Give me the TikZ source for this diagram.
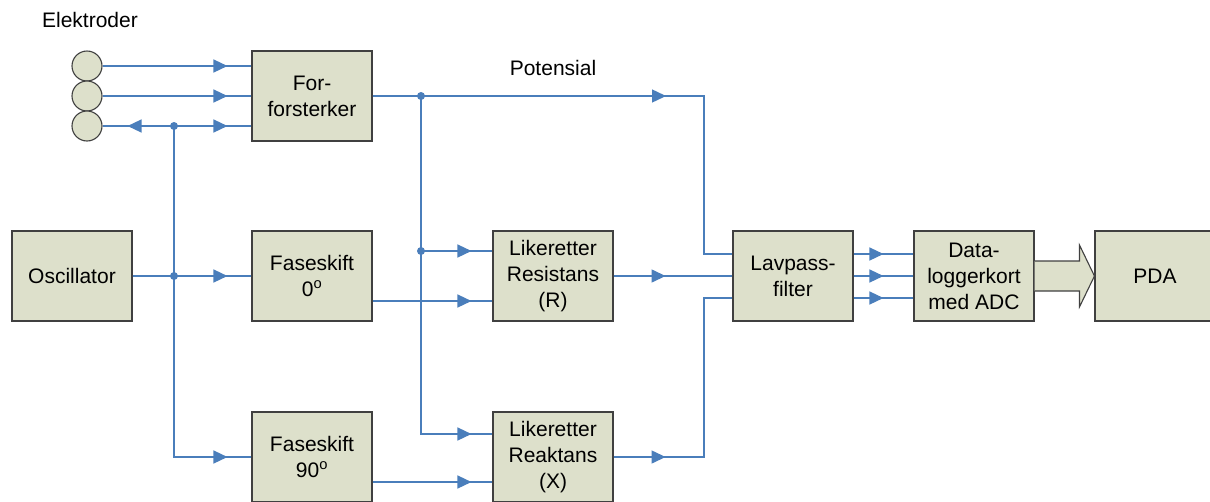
\documentclass[tikz,border=0pt]{standalone}
\usepackage{fontspec}
\setmainfont{Liberation Sans}
\usetikzlibrary{arrows.meta,decorations.markings}
\definecolor{boxfill}{RGB}{221,224,203}
\definecolor{boxline}{RGB}{64,64,64}
\definecolor{wireblue}{RGB}{74,126,187}
\begin{document}
\begin{tikzpicture}[x=1pt,y=-1pt,font=\fontsize{21}{26}\selectfont,
    block/.style={draw=boxline,line width=1.1pt,fill=boxfill,minimum width=120pt,minimum height=90pt,inner sep=0pt,align=center},
    elec/.style={circle,draw=boxline,line width=1.1pt,fill=boxfill,minimum size=30pt,inner sep=0pt},
    wire/.style={draw=wireblue,line width=1.4pt},
    feed/.style={wire,postaction={decorate},decoration={markings,mark=at position #1 with {\arrow{Triangle[length=14pt,width=13pt]}}}},
    feed/.default=-24pt]
  \useasboundingbox (0,0) rectangle (1210,501);
  \clip (0,0) rectangle (1210,501);

  \node at (90,20) {Elektroder};
  \node at (553,68) {Potensial};

  \node[elec] (e1) at (87,66) {};
  \node[elec] (e2) at (87,96) {};
  \node[elec] (e3) at (87,126) {};

  \node[block] (ff) at (312,96) {For-\\forsterker};
  \node[block] (osc) at (72,276) {Oscillator};
  \node[block] (fs0) at (312,276) {Faseskift\\0\textsuperscript{o}};
  \node[block] (fs90) at (312,457) {Faseskift\\90\textsuperscript{o}};
  \node[block] (lr) at (553,276) {Likeretter\\Resistans\\(R)};
  \node[block] (lx) at (553,457) {Likeretter\\Reaktans\\(X)};
  \node[block] (lp) at (793,276) {Lavpass-\\filter};
  \node[block] (dl) at (974,276) {Data-\\loggerkort\\med ADC};
  \node[block] (pda) at (1155,276) {PDA};

  \coordinate (j1) at (174,126);
  \coordinate (j2) at (174,276);
  \coordinate (j3) at (421,96);
  \coordinate (j4) at (421,251);
  \coordinate (c1) at (704,96);

  \foreach \i in {1,2}
    \draw[feed] (e\i.east) -- (e\i -| ff.west);
  \draw[feed=-25pt] (j1) -- (e3.east);
  \draw[feed] (j1) -- (j1 -| ff.west);
  \draw[wire] (j1) -- (j2);
  \draw[feed] (j2) |- (fs90.west);
  \draw[feed] (osc.east) -- (fs0.west);

  \draw[wire] (ff.east) -- (j3);
  \draw[feed=245pt] (j3) -- (c1) |- ([yshift=22pt]lp.west);
  \draw[feed=-21pt] (j3) |- ([yshift=23pt]lx.west);
  \draw[feed=-21pt] (j4) -- ([yshift=25pt]lr.west);
  \draw[feed=-21pt] ([yshift=-25pt]fs0.east) -- ([yshift=-25pt]lr.west);
  \draw[feed=-21pt] ([yshift=-25pt]fs90.east) -- ([yshift=-25pt]lx.west);

  \draw[feed=52pt] (lr.east) -- (lp.west);
  \draw[feed=52pt] (lx.east) -- (lx.east -| c1) |- ([yshift=-22pt]lp.west);
  \foreach \dy in {22,0,-22}
    \draw[feed=-30pt] ([yshift=\dy pt]lp.east) -- ([yshift=\dy pt]dl.west);

  \filldraw[draw=boxline,line width=1.1pt,fill=boxfill] ([yshift=15pt]dl.east) -- ([xshift=-15pt,yshift=15pt]pda.west)
    -- ([xshift=-15pt,yshift=31pt]pda.west) -- (pda.west) -- ([xshift=-15pt,yshift=-31pt]pda.west)
    -- ([xshift=-15pt,yshift=-15pt]pda.west) -- ([yshift=-15pt]dl.east);

  \foreach \j in {j1,j2,j3,j4}
    \fill[wireblue] (\j) circle (4pt);
\end{tikzpicture}
\end{document}
